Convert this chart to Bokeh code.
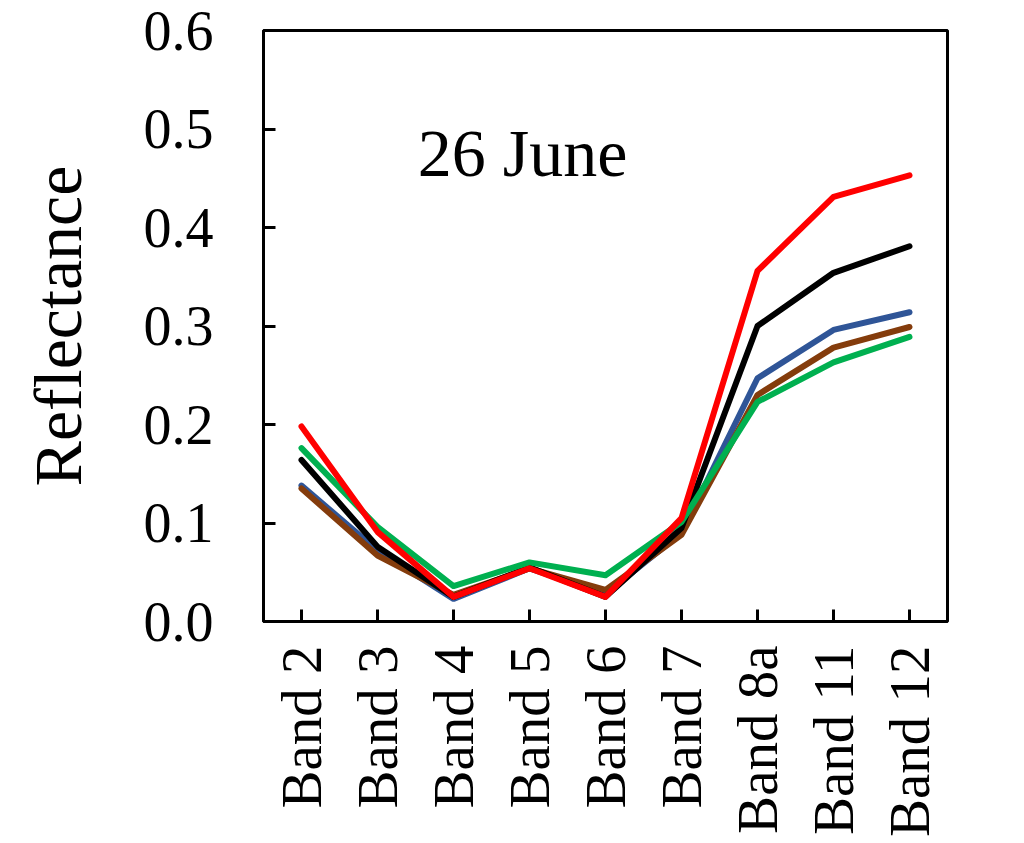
import math
from bokeh.plotting import figure
from bokeh.models import FixedTicker, Label, NumeralTickFormatter
from bokeh.embed import file_html
from bokeh.resources import INLINE

bands = ["Band 2", "Band 3", "Band 4", "Band 5", "Band 6", "Band 7", "Band 8a", "Band 11", "Band 12"]

blue_vals = [0.138, 0.072, 0.023, 0.054, 0.028, 0.090, 0.247, 0.296, 0.314]
brown_vals = [0.135, 0.067, 0.027, 0.054, 0.032, 0.088, 0.230, 0.278, 0.299]
black_vals = [0.164, 0.076, 0.025, 0.055, 0.025, 0.095, 0.300, 0.354, 0.381]
green_vals = [0.176, 0.096, 0.036, 0.060, 0.047, 0.101, 0.223, 0.263, 0.289]
red_vals = [0.198, 0.091, 0.025, 0.054, 0.025, 0.105, 0.356, 0.431, 0.453]

y_ticks = [0.0, 0.1, 0.2, 0.3, 0.4, 0.5, 0.6]
title_text = "26 June"

FONT = "Liberation Serif"

p = figure(x_range=bands, y_range=(0, 0.6), width=1024, height=843,
           output_backend="svg", toolbar_location=None,
           min_border_left=263, min_border_right=77, min_border_top=30, min_border_bottom=222)
p.x_range.range_padding = 0
p.background_fill_color = "white"
p.border_fill_color = "white"
p.outline_line_color = "black"
p.outline_line_width = 3
p.xgrid.visible = False
p.ygrid.visible = False

series = [
    (blue_vals, "#2F5597"),
    (brown_vals, "#843C0C"),
    (black_vals, "#000000"),
    (green_vals, "#00B050"),
    (red_vals, "#FF0000"),
]
for vals, col in series:
    p.line(bands, vals, line_color=col, line_width=6, line_cap="round", line_join="round")

for ax in (p.xaxis[0], p.yaxis[0]):
    ax.axis_line_color = "black"
    ax.axis_line_width = 3
    ax.major_tick_line_color = "black"
    ax.major_tick_line_width = 3
    ax.major_tick_in = 12
    ax.major_tick_out = 0
    ax.minor_tick_line_color = None
    ax.major_label_text_font = FONT
    ax.major_label_text_color = "black"

p.yaxis.ticker = FixedTicker(ticks=y_ticks)
p.yaxis.formatter = NumeralTickFormatter(format="0.0")
p.yaxis.major_label_text_font_size = "56px"
p.yaxis.major_label_standoff = 50
p.yaxis.axis_label = "Reflectance"
p.yaxis.axis_label_text_font = FONT
p.yaxis.axis_label_text_font_style = "normal"
p.yaxis.axis_label_text_font_size = "68px"
p.yaxis.axis_label_standoff = 45
p.yaxis.axis_label_text_color = "black"

p.xaxis.major_label_orientation = math.pi / 2
p.xaxis.major_label_text_font_size = "57px"
p.xaxis.major_label_standoff = 24

p.add_layout(Label(x=3.41, y=0.476, text=title_text, text_font=FONT, text_font_size="68px",
                   text_align="center", text_baseline="alphabetic", text_color="black"))

open("out.html", "w").write(file_html(p, INLINE))
